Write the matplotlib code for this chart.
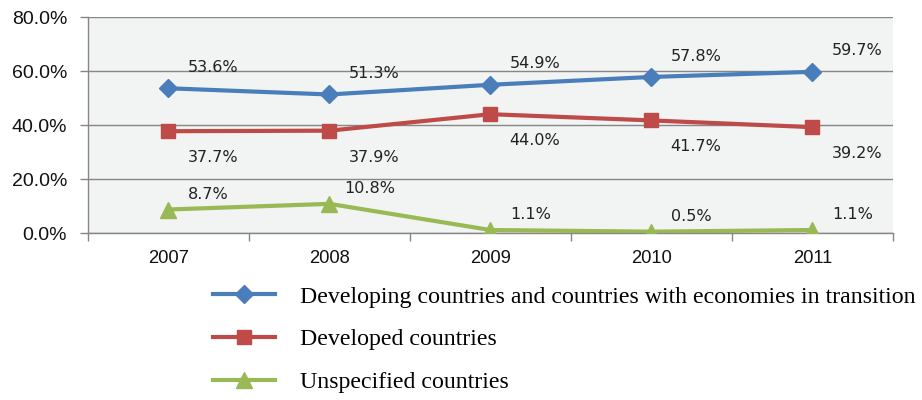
import matplotlib
matplotlib.use('Agg')
import matplotlib.pyplot as plt
import numpy as np

# 数据
years = ['2007', '2008', '2009', '2010', '2011']
developing = [53.6, 51.3, 54.9, 57.8, 59.7]
developed = [37.7, 37.9, 44.0, 41.7, 39.2]
unspecified = [8.7, 10.8, 1.1, 0.5, 1.1]
series_names = ['Developing countries and countries with economies in transition',
                'Developed countries',
                'Unspecified countries']

fig = plt.figure(figsize=(9.22, 4.0), dpi=100)
ax = fig.add_axes([0.0954, 0.4175, 0.873, 0.54])
ax.set_facecolor('#f2f3f3')

x = np.arange(len(years))
styles = [
    (developing, '#4a7ebb', 'D', 9, (32, 15)),
    (developed, '#be4b48', 's', 10, (32, -19)),
    (unspecified, '#98b954', '^', 11, (29, 11)),
]
for (vals, color, marker, ms, off), name in zip(styles, series_names):
    ax.plot(x, vals, color=color, lw=3, marker=marker, ms=ms,
            markeredgecolor=color, label=name, zorder=3)
    for xi, v in zip(x, vals):
        ax.annotate(f'{v:.1f}%', (xi, v), xytext=off, textcoords='offset points',
                    ha='center', va='center', fontsize=11.5, color='#222222',
                    family='DejaVu Sans')

ax.set_xlim(-0.5, len(years) - 0.5)
ax.set_ylim(0, 80)
ax.set_yticks(np.arange(0, 81, 20))
ax.set_yticklabels([f'{t:.1f}%' for t in np.arange(0, 81, 20)])
ax.set_xticks(x)
ax.set_xticklabels(years)
ax.set_xticks(np.arange(-0.5, len(years)), minor=True)
ax.tick_params(axis='x', which='major', length=0, pad=12)
ax.tick_params(axis='x', which='minor', length=6, color='#868686', width=1)
ax.tick_params(axis='y', length=6, color='#868686', width=1, pad=9)
for lab in ax.get_yticklabels():
    lab.set_fontsize(14)
for lab in ax.get_xticklabels():
    lab.set_fontsize(13.2)
for lab in ax.get_xticklabels() + ax.get_yticklabels():
    lab.set_family('Liberation Sans')
    lab.set_color('#111111')

ax.grid(axis='y', color='#868686', lw=1)
ax.set_axisbelow(True)
for s in ['top', 'right']:
    ax.spines[s].set_visible(False)
for s in ['left', 'bottom']:
    ax.spines[s].set_color('#868686')
    ax.spines[s].set_linewidth(1)

fig.legend(loc='upper left', bbox_to_anchor=(213 / 922, 1 - 286 / 400),
           frameon=False, prop={'family': 'Liberation Serif', 'size': 17.2},
           handlelength=2.6, handletextpad=1.05, labelspacing=0.88,
           borderpad=0, borderaxespad=0)

plt.savefig('out.png', dpi=100)
plt.close()
